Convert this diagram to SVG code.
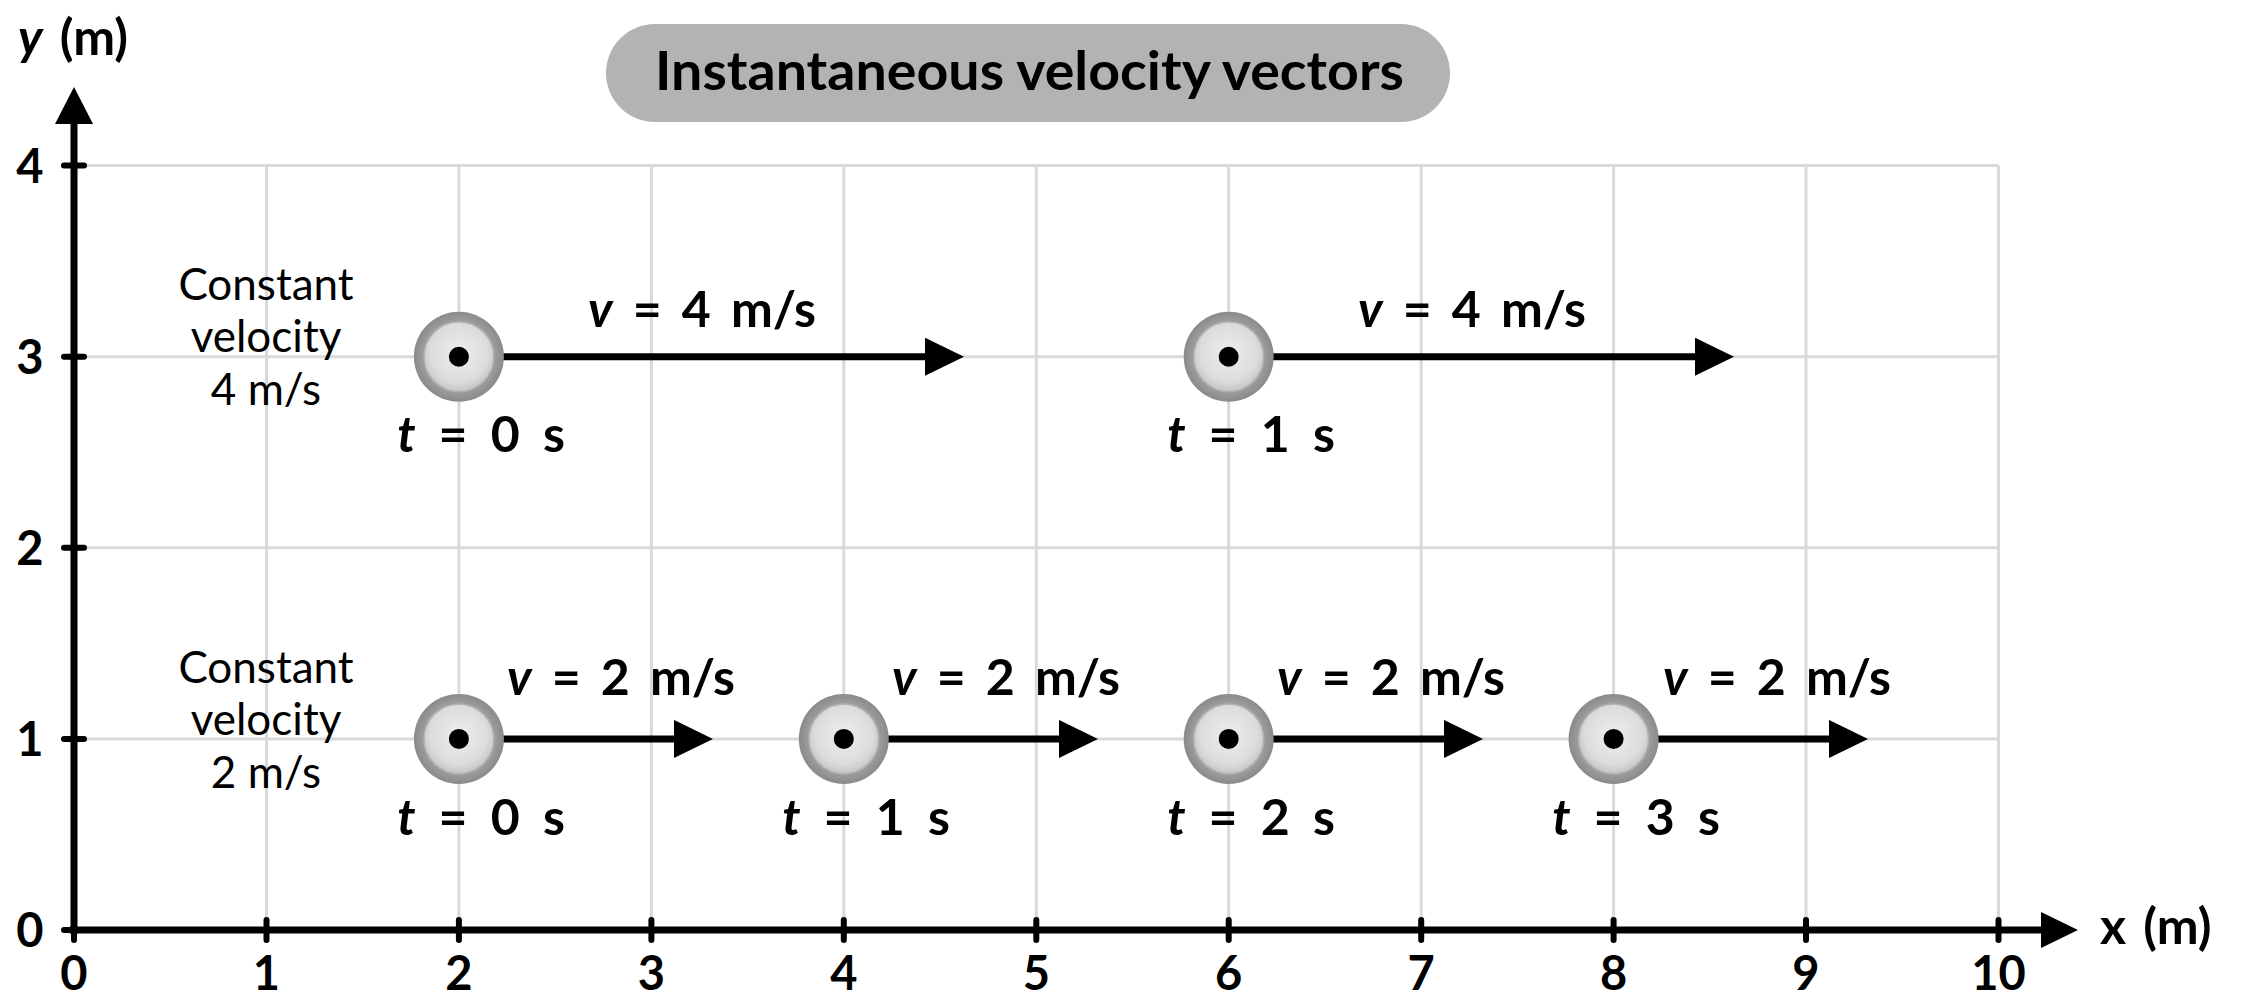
<svg xmlns="http://www.w3.org/2000/svg" width="2254" height="998" viewBox="0 0 2254 998">
<style>
.grid{stroke:#d9d9d9;stroke-width:3;fill:none}
.axis{stroke:#000;stroke-width:7;fill:none}
.tick{stroke:#000;stroke-width:6;stroke-linecap:round}
.t{font-family:Lato,"Open Sans","Liberation Sans",sans-serif;fill:#000}
.num{font-size:47px;font-weight:700;text-anchor:middle}
.vl{font-size:50px;font-weight:700;text-anchor:middle;word-spacing:8px}
.tl{word-spacing:11px}
.cv{font-size:44px;font-weight:400;text-anchor:middle}
.vec{stroke:#000;stroke-width:7;fill:none;marker-end:url(#ah)}
.i{font-style:italic}
</style>
<defs>
<marker id="ah" markerUnits="userSpaceOnUse" markerWidth="40" markerHeight="38" refX="3" refY="19" orient="auto">
<path d="M0,0 L39,19 L0,38 Z" fill="#000"/>
</marker>
<radialGradient id="inner" cx="50%" cy="45%" r="55%">
<stop offset="0" stop-color="#eeeeee"/>
<stop offset="0.75" stop-color="#dcdcdc"/>
<stop offset="1" stop-color="#c4c4c4"/>
</radialGradient>
<radialGradient id="outer" cx="50%" cy="50%" r="50%">
<stop offset="0.75" stop-color="#a0a0a0"/>
<stop offset="1" stop-color="#8a8a8a"/>
</radialGradient>
<g id="ball">
<circle r="45" fill="url(#outer)"/>
<circle r="35" fill="url(#inner)" stroke="#b0b0b0" stroke-width="1.5"/>
<circle r="10" fill="#000"/>
</g>
</defs>
<rect width="2254" height="998" fill="#fff"/>

<g id="grid">
<path class="grid" d="M266.5,165.6V930 M458.9,165.6V930 M651.4,165.6V930 M843.8,165.6V930 M1036.3,165.6V930 M1228.7,165.6V930 M1421.2,165.6V930 M1613.6,165.6V930 M1806,165.6V930 M1998.5,165.6V930"/>
<path class="grid" d="M74,165.6H1998.5 M74,356.7H1998.5 M74,547.8H1998.5 M74,738.9H1998.5"/>
</g>

<g id="axes">
<line class="axis" x1="74" y1="934" x2="74" y2="122"/>
<polygon points="74,87 93,124 55,124" fill="#000"/>
<line class="axis" x1="70" y1="930" x2="2043" y2="930"/>
<polygon points="2078,930 2041,912 2041,948" fill="#000"/>
<path class="tick" d="M64,930H84 M64,738.9H84 M64,547.8H84 M64,356.7H84 M64,165.6H84"/>
<path class="tick" d="M74,920V940 M266.5,920V940 M458.9,920V940 M651.4,920V940 M843.8,920V940 M1036.3,920V940 M1228.7,920V940 M1421.2,920V940 M1613.6,920V940 M1806,920V940 M1998.5,920V940"/>
<g class="t num">
<text x="30" y="947">0</text>
<text x="30" y="756">1</text>
<text x="30" y="565">2</text>
<text x="30" y="374">3</text>
<text x="30" y="183">4</text>
<text x="74" y="990">0</text>
<text x="266.5" y="990">1</text>
<text x="458.9" y="990">2</text>
<text x="651.4" y="990">3</text>
<text x="843.8" y="990">4</text>
<text x="1036.3" y="990">5</text>
<text x="1228.7" y="990">6</text>
<text x="1421.2" y="990">7</text>
<text x="1613.6" y="990">8</text>
<text x="1806" y="990">9</text>
<text x="1998.5" y="990">10</text>
</g>
<text class="t" x="18" y="55" font-size="50" font-weight="700" word-spacing="5"><tspan class="i">y</tspan> (m)</text>
<text class="t" x="2100" y="944" font-size="50" font-weight="700" word-spacing="5">x (m)</text>
</g>

<g id="title">
<rect x="606" y="24" width="844" height="98" rx="49" fill="#b3b3b3"/>
<text class="t" x="1029.5" y="90" font-size="54" font-weight="700" text-anchor="middle" textLength="749" lengthAdjust="spacingAndGlyphs">Instantaneous velocity vectors</text>
</g>

<g id="label-4ms" class="t cv">
<text x="266" y="300">Constant</text>
<text x="266" y="352">velocity</text>
<text x="266" y="405">4 m/s</text>
</g>
<g id="label-2ms" class="t cv">
<text x="266" y="683">Constant</text>
<text x="266" y="735">velocity</text>
<text x="266" y="788">2 m/s</text>
</g>

<g id="connectors">
<line class="vec" x1="458.9" y1="356.7" x2="928" y2="356.7"/>
<line class="vec" x1="1228.7" y1="356.7" x2="1698" y2="356.7"/>
<line class="vec" x1="458.9" y1="738.9" x2="677" y2="738.9"/>
<line class="vec" x1="843.8" y1="738.9" x2="1062" y2="738.9"/>
<line class="vec" x1="1228.7" y1="738.9" x2="1447" y2="738.9"/>
<line class="vec" x1="1613.6" y1="738.9" x2="1832" y2="738.9"/>
</g>

<g id="obj-a0">
<use href="#ball" x="458.9" y="356.7"/>
<text class="t vl" x="702" y="327"><tspan class="i">v</tspan> = 4 m/s</text>
<text class="t vl tl" x="481" y="452"><tspan class="i">t</tspan> = 0 s</text>
</g>
<g id="obj-a1">
<use href="#ball" x="1228.7" y="356.7"/>
<text class="t vl" x="1472" y="327"><tspan class="i">v</tspan> = 4 m/s</text>
<text class="t vl tl" x="1251" y="452"><tspan class="i">t</tspan> = 1 s</text>
</g>
<g id="obj-b0">
<use href="#ball" x="458.9" y="738.9"/>
<text class="t vl" x="621" y="695"><tspan class="i">v</tspan> = 2 m/s</text>
<text class="t vl tl" x="481" y="835"><tspan class="i">t</tspan> = 0 s</text>
</g>
<g id="obj-b1">
<use href="#ball" x="843.8" y="738.9"/>
<text class="t vl" x="1006" y="695"><tspan class="i">v</tspan> = 2 m/s</text>
<text class="t vl tl" x="866" y="835"><tspan class="i">t</tspan> = 1 s</text>
</g>
<g id="obj-b2">
<use href="#ball" x="1228.7" y="738.9"/>
<text class="t vl" x="1391" y="695"><tspan class="i">v</tspan> = 2 m/s</text>
<text class="t vl tl" x="1251" y="835"><tspan class="i">t</tspan> = 2 s</text>
</g>
<g id="obj-b3">
<use href="#ball" x="1613.6" y="738.9"/>
<text class="t vl" x="1777" y="695"><tspan class="i">v</tspan> = 2 m/s</text>
<text class="t vl tl" x="1636" y="835"><tspan class="i">t</tspan> = 3 s</text>
</g>
</svg>
